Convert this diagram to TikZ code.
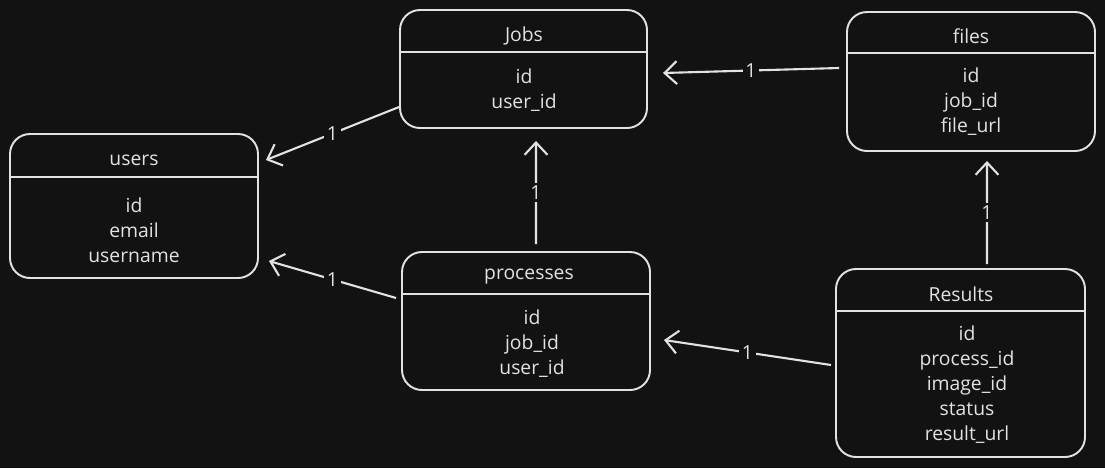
\documentclass[tikz,border=0pt]{standalone}
\usepackage{fontspec}
\setmainfont{Open Sans}
\usepackage{tikz}
\usetikzlibrary{positioning}
\usetikzlibrary{arrows.meta}
\usetikzlibrary{calc}
\usetikzlibrary{fit}

\definecolor{bgcol}{HTML}{121212}
\definecolor{inkcol}{HTML}{E2E2E2}

\tikzset{
	tablebox/.style={draw=inkcol, line width=1.1pt, rounded corners=0.4cm, inner sep=0pt},
	divider/.style={draw=inkcol, line width=1.4pt},
	tabletitle/.style={text=inkcol, inner sep=0pt, font=\fontsize{11}{14}\selectfont},
	tablefields/.style={text=inkcol, inner sep=0pt, align=center, font=\fontsize{11}{14.2}\selectfont},
	rel/.style={draw=inkcol, line width=1.2pt, -{Straight Barb[length=7pt,width=13pt]}},
	card/.style={fill=bgcol, text=inkcol, inner sep=1.5pt, font=\fontsize{11}{13}\selectfont}
}

\begin{document}
\begin{tikzpicture}[x=0.02cm, y=-0.02cm]

% background
\fill[bgcol] (0,0) rectangle (1105,468);
\useasboundingbox (0,0) rectangle (1105,468);

% users table
\node[tablebox, fit={(10,134) (258,278)}] (users) {};
\draw[divider] (users.west |- 0,177) -- (users.east |- 0,177);
\node[tabletitle] (userstitle) at (134,160) {users};
\node[tablefields] (usersfields) at (134,230) {id\\email\\username};

% Jobs table
\node[tablebox, fit={(400,10) (647,128)}] (jobs) {};
\draw[divider] (jobs.west |- 0,52) -- (jobs.east |- 0,52);
\node[tabletitle] (jobstitle) at (524,36) {Jobs};
\node[tablefields] (jobsfields) at (524,90) {id\\user\_id};

% files table
\node[tablebox, fit={(847,12) (1095,151)}] (files) {};
\draw[divider] (files.west |- 0,53) -- (files.east |- 0,53);
\node[tabletitle] (filestitle) at (971,36) {files};
\node[tablefields] (filesfields) at (971,102) {id\\job\_id\\file\_url};

% processes table
\node[tablebox, fit={(402,252) (650,390)}] (processes) {};
\draw[divider] (processes.west |- 0,294) -- (processes.east |- 0,294);
\node[tabletitle] (processestitle) at (529,277) {processes};
\node[tablefields] (processesfields) at (532,344) {id\\job\_id\\user\_id};

% Results table
\node[tablebox, fit={(836,269) (1085,457)}] (results) {};
\draw[divider] (results.west |- 0,311) -- (results.east |- 0,311);
\node[tabletitle] (resultstitle) at (961,294) {Results};
\node[tablefields] (resultsfields) at (967,385) {id\\process\_id\\image\_id\\status\\result\_url};

% relations
\draw[rel] ($(jobs.west)+(0,38)$) -- node[card] (c1) {1} ($(users.east)+(7,-46)$);
\draw[rel] ($(processes.west)+(-5,-23)$) -- node[card] (c2) {1} ($(users.east)+(10,55)$);
\draw[rel] ($(processes.north)+(10,-7)$) -- node[card] (c3) {1} ($(jobs.south)+(12.5,12)$);
\draw[rel] ($(files.west)+(-7,-13.5)$) -- node[card] (c4) {1} ($(jobs.east)+(15,4)$);
\draw[rel] ($(results.north)+(26.5,-4)$) -- node[card] (c5) {1} ($(files.south)+(16,9)$);
\draw[rel] ($(results.west)+(-4,2)$) -- node[card] (c6) {1} ($(processes.east)+(13,19)$);

\end{tikzpicture}
\end{document}
